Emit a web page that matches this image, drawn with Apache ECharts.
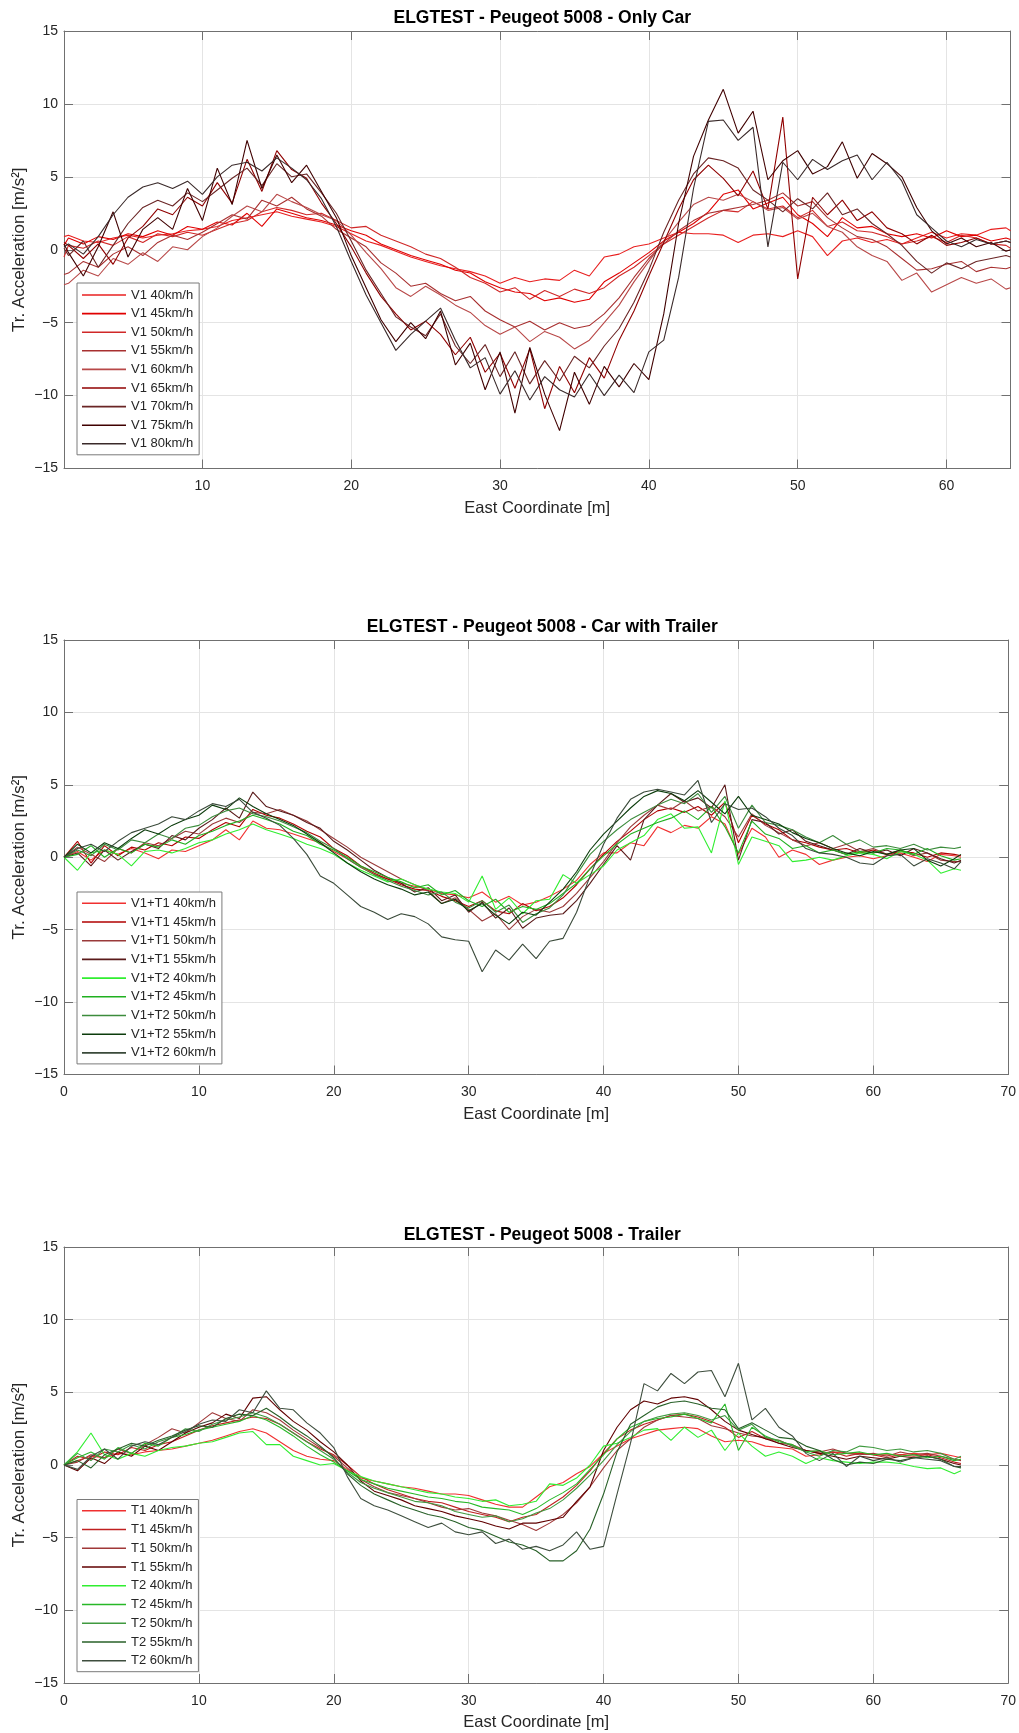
<!DOCTYPE html>
<html><head><meta charset="utf-8">
<script src="https://cdn.jsdelivr.net/npm/echarts@6/dist/echarts.min.js"></script>
<style>html,body{margin:0;padding:0;background:#fff}#c{width:1019px;height:1733px}</style>
</head><body><div id="c"></div><script>
// ---------- Panel 1: Only Car ----------
const xs1 = [0.7,1,2,3,4,5,6,7,8,9,10,11,12,13,14,15,16,17,18,19,20,21,22,23,24,25,26,27,28,29,30,31,32,33,34,35,36,37,38,39,40,41,42,43,44,45,46,47,48,49,50,51,52,53,54,55,56,57,58,59,60,61,62,63,64,64.3];
const names1 = ['V1 40km/h','V1 45km/h','V1 50km/h','V1 55km/h','V1 60km/h','V1 65km/h','V1 70km/h','V1 75km/h','V1 80km/h'];
const v1_40 = [0.9, 1.0,0.6,0.5,0.8,1.0,0.8,1.0,1.1,1.3,1.4, 1.6,2.0,2.2,2.4,2.6,2.3,2.1,1.9,1.6,1.1, 0.6,0.3,-0.1,-0.5,-0.8,-1.1,-1.3,-1.5,-1.8,-2.3, -1.9,-2.2,-2.0,-2.1,-1.4,-1.8,-0.5,-0.3,0.2,0.4, 0.8,1.2,1.1,1.1,1.0,0.5,1.0,1.1,0.9,1.3, 0.9,-0.4,0.6,0.8,0.5,0.7,0.4,0.8,1.2,0.8, 1.1,1.0,1.4,1.5, 1.3];
const v1_45 = [0.3, 0.8,0.4,0.9,0.7,1.1,0.9,1.3,1.0,1.6,1.4, 1.9,1.7,2.5,1.6,2.8,2.5,2.2,2.0,1.7,1.3, 1.0,0.4,0.0,-0.4,-0.7,-1.0,-1.4,-1.6,-2.2,-2.6, -2.9,-3.0,-3.5,-3.3,-3.6,-3.4,-2.2,-1.6,-0.9,-0.2, 0.6,1.2,1.8,2.6,3.8,4.1,2.8,3.2,3.6,2.4, 1.8,0.9,2.2,1.5,1.6,1.1,0.9,1.1,0.8,1.3, 0.9,1.0,0.6,0.8, 0.7];
const v1_50 = [-0.5, 0.3,0.1,0.6,0.3,0.9,0.5,1.1,0.9,1.2,1.0, 1.4,1.8,2.0,2.6,2.9,2.7,2.4,2.5,2.0,1.5, 1.6,1.0,0.6,0.2,-0.3,-0.6,-1.2,-1.9,-2.3,-2.9, -2.6,-3.4,-2.8,-3.2,-2.7,-3.0,-2.6,-1.8,-1.2,-0.4, 0.4,1.0,1.6,2.2,2.7,2.6,3.3,2.8,3.0,2.2, 2.7,1.6,1.9,1.3,1.2,0.9,0.4,0.6,0.9,0.5, 1.0,0.8,0.4,0.3, 0.1];
const v1_55 = [-1.7, -1.6,-0.8,-1.2,-0.3,0.2,-0.4,0.5,1.0,0.7,1.2, 1.8,2.4,2.1,3.4,3.0,3.6,2.8,2.3,1.4,0.8, 0.2,-0.9,-1.6,-2.5,-2.3,-3.0,-3.5,-3.2,-4.2,-4.8, -5.3,-4.9,-5.5,-5.0,-5.4,-5.2,-4.4,-3.3,-1.9,-0.6, 0.4,1.3,2.0,2.5,2.7,2.9,3.1,3.4,3.9,3.0, 3.3,2.2,1.5,0.9,0.7,0.2,-0.6,-1.4,-1.3,-1.0, -0.8,-1.5,-1.2,-1.3, -1.2];
const v1_60 = [-2.4, -2.3,-1.4,-1.8,-0.6,-1.0,-0.2,-0.8,0.2,0.0,0.9, 1.5,2.3,3.0,2.6,3.8,3.3,2.9,2.4,2.0,1.0, -0.2,-1.3,-2.6,-3.2,-2.5,-3.1,-3.8,-4.3,-5.2,-5.8, -5.3,-6.3,-5.6,-6.0,-6.8,-6.2,-5.0,-3.8,-2.2,-0.8, 0.6,1.9,3.1,3.6,3.4,3.8,3.3,2.7,2.9,2.1, 2.5,1.6,1.2,0.2,-0.4,-0.8,-2.1,-1.6,-2.9,-2.4, -1.9,-2.3,-2.0,-2.7, -2.6];
const v1_65 = [0.5, 0.3,-0.6,0.4,-1.0,0.8,1.6,2.8,2.4,3.6,3.0, 4.6,3.2,6.2,4.0,6.8,5.5,4.9,3.2,1.8,0.2, -1.6,-3.2,-4.4,-5.5,-4.9,-5.8,-7.2,-6.0,-8.4,-7.1, -9.5,-6.8,-10.9,-8.0,-9.8,-7.4,-8.8,-6.2,-4.2,-1.8, 0.5,2.8,4.8,5.8,4.9,3.7,5.4,2.8,9.1,-2.0, 3.6,2.4,3.4,2.0,2.6,1.5,1.1,0.4,1.0,0.3, 0.5,0.8,0.4,0.6, 0.5];
const v1_70 = [0.1, -0.4,0.6,-1.2,0.3,1.8,2.9,3.4,3.0,3.9,3.3, 4.1,4.9,5.6,4.4,5.9,5.0,5.2,3.9,2.5,0.6, -1.4,-3.0,-4.6,-5.3,-5.9,-4.4,-6.6,-7.8,-6.5,-8.7, -7.0,-9.2,-7.6,-9.0,-7.3,-8.1,-6.6,-5.4,-3.6,-1.4, 1.2,3.4,5.2,6.3,6.1,5.6,4.1,3.4,2.6,3.5, 2.8,3.9,2.4,2.8,1.8,1.1,0.3,-0.8,-1.6,-0.9, -1.3,-0.8,-0.6,-0.4, -0.5];
const v1_75 = [0.4, -0.2,-1.8,0.2,2.6,-0.5,1.4,2.2,1.4,4.2,2.0, 5.6,3.1,7.5,4.2,6.5,4.6,5.8,4.0,2.2,-0.4, -2.6,-4.8,-6.3,-5.0,-6.1,-4.2,-7.9,-6.4,-9.6,-7.0, -11.2,-6.7,-9.9,-12.4,-8.4,-10.6,-8.0,-9.4,-7.8,-8.9, -4.4,1.8,6.4,8.9,11.0,8.0,9.5,4.8,6.1,6.8, 5.2,5.7,7.4,4.9,6.6,5.9,5.0,2.9,1.3,0.4, 0.8,0.2,0.5,-0.1, 0.0];
const v1_80 = [0.2, 0.4,-0.3,0.9,2.4,3.6,4.3,4.6,4.2,4.7,3.8, 5.0,5.8,6.0,5.4,6.3,5.6,4.8,3.5,1.6,-0.8, -3.1,-5.0,-6.9,-5.8,-4.9,-4.0,-6.2,-8.1,-7.4,-9.9, -8.3,-10.3,-8.7,-9.6,-10.1,-8.5,-10.0,-8.6,-9.8,-7.0, -6.2,-1.9,4.2,8.8,8.9,7.5,8.4,0.2,6.0,4.8, 6.2,5.5,6.1,6.5,4.8,6.0,4.7,2.4,1.5,0.6, 0.2,0.7,0.4,0.6, 0.5];
const colors1 = ['#e82020','#e00000','#d02828','#a83030','#b84848','#900000','#6a2525','#400000','#3a2a2a'];

// ---------- Panel 2: Car with Trailer ----------
const xs2 = [0,1,2,3,4,5,6,7,8,9,10,11,12,13,14,15,16,17,18,19,20,21,22,23,24,25,26,27,28,29,30,31,32,33,34,35,36,37,38,39,40,41,42,43,44,45,46,47,48,49,50,51,52,53,54,55,56,57,58,59,60,61,62,63,64,65,66,66.5];
const names2 = ['V1+T1 40km/h','V1+T1 45km/h','V1+T1 50km/h','V1+T1 55km/h','V1+T2 40km/h','V1+T2 45km/h','V1+T2 50km/h','V1+T2 55km/h','V1+T2 60km/h'];
const c_t1_40 = [0, 0.4,-0.2,0.5,0.2,0.6,0.3,-0.1,0.5,0.4,0.8, 1.2,1.9,1.2,2.5,2.0,1.9,1.6,1.3,1.0,0.4, -0.1,-0.7,-1.2,-1.5,-1.8,-2.0,-2.2,-2.5,-2.6,-2.8, -2.4,-3.1,-2.7,-3.3,-3.1,-2.7,-2.2,-1.6,-0.5,0.3, 0.3,1.0,0.8,2.1,1.7,2.2,2.0,2.8,2.3,0.2, 2.0,1.4,0.0,0.5,0.2,-0.5,-0.2,0.0,0.1,-0.1, 0.1,0.3,0.0,-0.3,0.2,0.1, 0.0];
const c_t1_45 = [0, 1.1,-0.4,0.8,0.1,0.7,0.5,1.0,0.8,1.4,1.3, 1.9,2.4,2.1,3.3,2.9,2.7,2.3,1.8,1.4,0.6, 0.1,-0.6,-1.1,-1.5,-1.9,-2.2,-2.3,-2.7,-3.0,-3.4, -3.0,-3.7,-3.9,-3.2,-3.7,-3.4,-2.8,-1.9,-0.8,0.2, 1.1,1.8,2.6,3.2,3.4,3.1,3.5,2.9,3.8,1.0, 2.9,2.3,1.9,1.2,1.0,0.7,0.5,0.6,0.3,0.5, 0.2,0.4,0.3,0.0,0.3,0.2, 0.1];
const c_t1_50 = [0, 0.7,0.2,-0.3,0.6,0.3,1.0,0.8,1.3,1.8,1.6, 2.3,2.7,2.4,3.1,3.0,3.3,2.9,2.5,1.9,1.3, 0.7,0.0,-0.5,-1.0,-1.5,-1.9,-2.3,-3.2,-2.8,-3.6, -4.4,-3.9,-5.0,-4.1,-3.6,-3.8,-3.4,-2.5,-1.4,-0.3, 1.0,2.1,2.9,3.6,3.3,3.9,3.2,3.5,2.8,1.4, 3.0,2.2,1.7,1.2,0.8,1.0,0.6,0.9,0.4,0.6, 0.2,0.5,0.1,0.3,-0.2,-0.3, -0.3];
const c_t1_55 = [0, 0.3,-0.6,0.5,-0.2,0.4,0.9,0.6,1.5,1.2,2.0, 2.6,3.4,2.7,4.5,3.5,3.2,2.9,2.4,2.0,1.1, 0.5,-0.2,-0.9,-1.4,-1.8,-2.4,-2.1,-3.0,-2.6,-3.8, -3.1,-4.2,-3.5,-4.9,-4.2,-4.0,-3.9,-3.0,-1.8,-0.5, 0.8,-0.2,2.6,3.6,4.4,3.8,4.1,3.4,5.0,-0.2, 2.6,2.4,1.6,1.9,1.1,0.8,0.5,0.2,0.6,0.3, 0.5,0.1,0.6,0.3,-0.1,-0.4, -0.2];
const c_t2_40 = [0, -0.9,0.3,0.5,0.2,-0.6,0.4,0.5,0.3,0.6,1.0, 1.2,1.6,1.9,2.3,1.9,1.6,1.3,0.9,0.6,0.2, -0.4,-0.9,-1.3,-1.7,-1.5,-1.9,-2.2,-2.4,-2.5,-3.1, -1.3,-3.6,-2.8,-3.9,-3.0,-2.9,-1.2,-1.8,-1.2,-0.6, 0.5,1.0,1.5,2.6,3.0,2.0,2.1,0.3,3.9,-0.5, 1.4,1.1,0.8,-0.3,-0.2,0.0,-0.2,0.1,0.3,0.2, -0.1,0.4,0.2,-0.2,-1.1,-0.8, -0.9];
const c_t2_45 = [0, 0.2,0.8,0.0,0.6,0.3,0.9,0.7,1.2,0.9,1.5, 1.8,2.2,2.5,2.9,2.6,2.3,1.8,1.5,0.9,0.5, 0.0,-0.6,-1.0,-1.4,-1.7,-2.1,-1.9,-2.6,-2.3,-3.0, -3.4,-2.9,-3.8,-3.4,-3.6,-3.2,-2.5,-1.8,-0.8,0.1, 0.9,1.6,2.0,2.4,2.7,3.2,2.6,3.5,2.1,0.3, 2.5,1.6,1.3,0.6,0.8,0.3,0.5,0.2,0.4,0.3, 0.6,0.5,0.2,0.6,0.1,-0.2, -0.1];
const c_t2_50 = [0, 0.5,0.1,0.9,0.5,1.2,1.0,1.6,1.3,2.0,2.2, 2.8,3.2,3.4,3.0,2.8,2.5,2.1,1.7,1.1,0.6, -0.1,-0.7,-1.2,-1.6,-2.0,-2.3,-2.6,-2.4,-3.1,-3.5, -3.0,-3.8,-3.3,-4.5,-3.9,-3.5,-2.6,-1.2,0.2,1.1, 1.9,2.6,3.1,3.6,4.0,3.7,4.4,3.1,4.2,2.0, 3.6,2.4,2.2,1.9,1.4,1.0,1.5,0.9,1.2,0.7, 0.8,0.6,0.9,0.5,0.7,0.6, 0.7];
const c_t2_55 = [0, 0.9,0.3,1.0,0.6,1.3,1.9,1.6,2.2,2.6,2.9, 3.6,3.3,4.1,3.5,3.0,2.6,2.2,1.6,1.0,0.3, -0.4,-1.0,-1.5,-1.9,-2.2,-2.6,-2.4,-3.2,-2.9,-3.7, -3.2,-4.0,-4.6,-3.8,-4.0,-3.1,-2.2,-1.0,0.5,1.6, 2.5,3.4,4.2,4.6,4.4,3.9,4.6,3.8,3.0,4.2, 2.9,2.6,2.3,1.7,1.3,1.0,0.6,0.3,0.1,0.4, 0.2,0.5,0.6,-0.2,-0.6,-0.1, 0.2];
const c_t2_60 = [0, 0.6,0.9,0.4,1.1,1.7,2.0,2.3,2.8,2.6,3.2, 3.7,3.5,4.0,3.1,2.7,2.2,1.3,0.2,-1.3,-1.8, -2.6,-3.4,-3.8,-4.3,-3.9,-4.1,-4.6,-5.5,-5.7,-5.8, -7.9,-6.4,-7.1,-6.0,-7.0,-5.8,-5.6,-3.8,-1.3,0.9, 2.7,4.0,4.5,4.7,4.5,4.3,5.3,2.4,3.7,3.3, 3.4,2.8,2.0,1.5,0.6,0.3,0.2,0.0,-0.4,-0.5, 0.1,0.2,-0.6,-0.1,-0.4,-0.8, -0.3];
const colors2 = ['#f03030','#b00000','#9a3a3a','#5a1a1a','#30ee30','#20b020','#3c8c3c','#0c3c0c','#3a4a3a'];

// ---------- Panel 3: Trailer ----------
const xs3 = [0,1,2,3,4,5,6,7,8,9,10,11,12,13,14,15,16,17,18,19,20,21,22,23,24,25,26,27,28,29,30,31,32,33,34,35,36,37,38,39,40,41,42,43,44,45,46,47,48,49,50,51,52,53,54,55,56,57,58,59,60,61,62,63,64,65,66,66.5];
const names3 = ['T1 40km/h','T1 45km/h','T1 50km/h','T1 55km/h','T2 40km/h','T2 45km/h','T2 50km/h','T2 55km/h','T2 60km/h'];
const t1_40 = [0, 0.3,0.6,0.5,0.8,0.7,0.9,1.0,1.1,1.3,1.5, 1.7,2.0,2.3,2.5,2.2,1.6,1.0,0.6,0.4,0.3, -0.3,-0.9,-1.1,-1.3,-1.5,-1.6,-1.8,-2.0,-2.0,-2.1, -2.4,-2.7,-2.9,-2.9,-2.2,-1.5,-1.2,-0.6,-0.1,0.8, 1.3,1.8,2.1,2.4,2.5,2.6,2.5,2.0,1.6,1.7, 1.6,1.3,1.2,1.1,0.6,0.7,0.9,0.8,0.8,0.7, 0.7,0.7,0.8,0.7,0.8,0.6, 0.5];
const t1_45 = [0, 0.6,0.4,0.9,0.7,1.2,1.0,1.4,1.6,2.0,2.4, 2.7,2.9,3.1,3.3,3.2,2.8,2.2,1.6,1.1,0.7, 0.0,-0.8,-1.3,-1.7,-2.0,-2.3,-2.5,-2.6,-2.9,-3.2, -3.4,-3.6,-3.9,-3.6,-3.4,-2.8,-2.2,-1.4,-0.4,0.8, 1.8,2.4,2.8,3.1,3.4,3.5,3.3,3.0,2.6,1.9, 2.3,1.8,1.7,1.3,1.0,0.8,0.9,0.6,0.8,0.7, 0.5,0.7,0.6,0.7,0.5,0.2, 0.1];
const t1_50 = [0, 0.2,0.7,0.5,1.1,0.8,1.4,1.9,2.5,2.2,2.9, 3.6,3.2,3.0,3.8,3.6,3.1,2.4,1.8,1.2,0.6, -0.2,-1.0,-1.5,-1.9,-2.1,-2.3,-2.6,-2.9,-3.1,-3.0, -3.3,-3.5,-3.8,-4.1,-4.5,-4.0,-3.4,-2.6,-1.5,-0.2, 1.0,1.8,2.6,3.1,3.4,3.3,3.2,2.7,2.5,2.2, 2.0,1.9,1.5,1.4,1.0,0.9,1.1,0.8,0.7,0.8, 0.6,0.9,0.7,0.8,0.6,0.4, 0.3];
const t1_55 = [0, -0.4,0.5,0.1,0.9,0.6,1.3,1.0,1.6,2.2,2.6, 2.9,3.5,3.2,4.6,4.7,3.8,3.0,2.4,1.6,0.9, 0.0,-1.1,-1.8,-2.1,-2.4,-2.8,-3.0,-3.2,-3.5,-3.7, -3.9,-4.2,-4.4,-4.0,-4.0,-3.8,-3.6,-2.5,-1.5,1.0, 2.6,3.8,4.4,4.2,4.6,4.7,4.5,3.8,3.0,2.4, 2.1,1.8,1.5,1.2,1.0,0.8,0.6,0.4,0.6,0.5, 0.4,0.6,0.5,0.6,0.4,0.1, 0.0];
const t2_40 = [0, 0.9,2.2,0.7,0.4,0.8,0.6,1.0,1.2,1.3,1.5, 1.6,1.9,2.2,2.3,1.4,1.4,0.6,0.3,0.0,0.1, -0.4,-0.8,-1.1,-1.3,-1.5,-1.7,-1.9,-2.0,-2.2,-2.3, -2.5,-2.4,-2.8,-2.7,-2.5,-1.3,-1.4,-0.9,0.0,1.3, 1.5,1.9,2.4,2.5,1.7,2.6,1.9,2.4,1.0,2.2, 1.3,0.6,0.9,0.6,0.1,0.5,0.3,0.2,0.1,0.2, 0.2,0.1,-0.1,-0.25,-0.2,-0.6, -0.4];
const t2_45 = [0, 0.5,0.9,0.4,1.2,0.8,1.5,1.3,1.9,2.1,2.4, 2.6,2.8,3.0,3.4,3.1,2.6,2.0,1.3,0.7,0.2, -0.4,-1.0,-1.3,-1.6,-1.8,-2.0,-2.2,-2.3,-2.5,-2.6, -2.9,-3.0,-3.1,-3.4,-3.0,-2.4,-1.9,-1.3,-0.3,0.7, 1.8,2.6,3.0,3.2,3.3,3.5,3.2,2.9,4.2,1.0, 2.6,2.0,1.6,1.4,0.9,1.0,0.7,0.8,0.9,0.7, 0.8,0.6,0.7,0.5,0.6,0.3, 0.4];
const t2_50 = [0, 0.8,0.3,1.1,0.9,1.4,1.1,1.6,1.9,2.5,2.3, 2.8,3.1,3.3,3.6,3.3,2.8,2.2,1.6,1.0,0.4, -0.5,-1.2,-1.6,-1.9,-2.2,-2.5,-2.6,-2.8,-3.2,-3.4, -3.6,-3.5,-3.9,-3.7,-3.3,-3.0,-2.4,-1.6,-0.7,0.3, 1.4,2.3,3.0,3.3,3.5,3.6,3.4,3.1,3.4,2.4, 2.8,1.9,1.7,1.3,0.9,0.6,1.0,0.9,1.3,1.2, 1.0,1.1,0.9,1.0,0.8,0.4, 0.6];
const t2_55 = [0, 0.3,-0.2,0.7,1.1,1.5,1.3,1.7,2.0,2.4,2.7, 2.6,3.2,3.5,3.4,3.9,3.3,2.6,2.0,1.3,0.5, -0.6,-1.4,-2.0,-2.4,-2.8,-3.1,-3.4,-3.6,-3.9,-4.3, -4.5,-4.9,-5.3,-5.5,-5.9,-6.6,-6.6,-5.9,-4.4,-2.0, 0.9,2.8,3.4,4.0,4.3,4.4,4.2,3.9,3.8,2.5, 2.9,2.4,1.9,1.8,1.3,1.0,0.4,0.0,0.2,0.1, 0.4,0.3,0.5,0.6,0.4,-0.1, -0.2];
const t2_60 = [0, -0.3,0.6,1.1,0.4,1.3,1.6,1.4,1.9,2.3,2.8, 3.1,3.0,3.8,3.6,5.1,3.9,3.8,2.9,2.2,1.2, -0.8,-2.3,-2.8,-3.1,-3.5,-3.9,-4.3,-4.0,-4.6,-4.8, -4.6,-5.4,-5.1,-5.8,-5.6,-5.9,-5.5,-4.6,-5.8,-5.6, -2.0,1.5,5.6,5.1,6.3,5.6,6.4,6.5,4.7,7.0, 3.1,3.9,2.6,2.0,0.8,0.3,0.8,-0.1,0.6,0.3, 0.5,0.2,0.5,0.4,0.3,-0.1, -0.1];
const colors3 = ['#f03030','#c02020','#a03838','#600000','#30ee30','#28b828','#409a40','#286028','#3e4e3e'];

const yTicks = [-15,-10,-5,0,5,10,15];
const FONT = 'Liberation Sans, Arial, Helvetica, sans-serif';
const AX = '#707070', TXT = '#262626', GRIDC = '#e4e4e4';
const minus = v => String(v).replace('-', '\u2212');

const panels = [
  {title:'ELGTEST - Peugeot 5008 - Only Car', top:31, height:437.5, xmin:0.7, xmax:64.3, xs:xs1, names:names1,
   vals:[v1_40,v1_45,v1_50,v1_55,v1_60,v1_65,v1_70,v1_75,v1_80], colors:colors1, lgTop:283, lgPad:[5,6,4,5], lgGap:4.6, tOff:27},
  {title:'ELGTEST - Peugeot 5008 - Car with Trailer', top:640, height:434.5, xmin:0, xmax:70, xs:xs2, names:names2,
   vals:[c_t1_40,c_t1_45,c_t1_50,c_t1_55,c_t2_40,c_t2_45,c_t2_50,c_t2_55,c_t2_60], colors:colors2, lgTop:892, lgPad:[4.3,6,4,5], lgGap:4.7, tOff:26.5},
  {title:'ELGTEST - Peugeot 5008 - Trailer', top:1247, height:436, xmin:0, xmax:70, xs:xs3, names:names3,
   vals:[t1_40,t1_45,t1_50,t1_55,t2_40,t2_45,t2_50,t2_55,t2_60], colors:colors3, lgTop:1499.5, lgPad:[4.2,6,4,5], lgGap:4.75, tOff:26}
];

const LEFT = 64, WIDTH = 946.5;
const grid = [], xAxis = [], yAxis = [], series = [], legend = [], title = [];
panels.forEach((p, i) => {
  grid.push({left:LEFT, top:p.top, width:WIDTH, height:p.height, containLabel:false});
  title.push({text:p.title, left:LEFT + WIDTH/2, top:p.top - p.tOff, textAlign:'center',
    textStyle:{fontFamily:FONT, fontSize:17.5, fontWeight:'bold', color:'#000'}});
  const xTickCommon = {gridIndex:i, type:'value', min:p.xmin, max:p.xmax, minInterval:10, maxInterval:10,
    axisLine:{show:true, onZero:false, lineStyle:{color:AX, width:1}},
    axisTick:{show:true, inside:true, length:9, lineStyle:{color:AX}}};
  xAxis.push(Object.assign({}, xTickCommon, {position:'bottom',
    axisLabel:{show:true, color:TXT, fontSize:14, fontFamily:FONT, margin:11, showMinLabel: p.xmin === 0, showMaxLabel: p.xmax === 70,
      formatter: v => (Math.abs(v % 10) < 1e-9 ? String(v) : '')},
    splitLine:{show:true, lineStyle:{color:GRIDC, width:1}},
    name:'East Coordinate [m]', nameLocation:'middle', nameGap:31,
    nameTextStyle:{fontFamily:FONT, fontSize:16.5, color:TXT}}));
  xAxis.push(Object.assign({}, xTickCommon, {position:'top', axisLabel:{show:false}, splitLine:{show:false}}));
  const yCommon = {gridIndex:i, type:'value', min:yTicks[0], max:yTicks[yTicks.length-1], interval:5,
    axisLine:{show:true, onZero:false, lineStyle:{color:AX, width:1}},
    axisTick:{show:true, inside:true, length:9, lineStyle:{color:AX}}};
  yAxis.push(Object.assign({}, yCommon, {position:'left',
    axisLabel:{show:true, color:TXT, fontSize:14, fontFamily:FONT, margin:6, formatter:minus},
    splitLine:{show:true, lineStyle:{color:GRIDC, width:1}},
    name:'Tr. Acceleration [m/s²]', nameLocation:'middle', nameGap:36, nameRotate:90, nameMoveOverlap:false,
    nameTextStyle:{fontFamily:FONT, fontSize:17, color:TXT}}));
  yAxis.push(Object.assign({}, yCommon, {position:'right', axisLabel:{show:false}, splitLine:{show:false}}));
  p.names.forEach((n, k) => {
    series.push({name:n, type:'line', xAxisIndex:2*i, yAxisIndex:2*i,
      data:p.xs.map((x, j) => [x, p.vals[k][j]]),
      symbol:'none', showSymbol:false, silent:true, animation:false,
      color:p.colors[k], lineStyle:{width:1.1, color:p.colors[k]}, itemStyle:{color:p.colors[k]}});
  });
  legend.push({data:p.names.map(n => ({name:n, icon:'rect'})), orient:'vertical', left:77, top:p.lgTop, backgroundColor:'#fff',
    borderColor:'#7a7a7a', borderWidth:1, borderRadius:0, padding:p.lgPad,
    itemWidth:44, itemHeight:1.6, itemGap:p.lgGap, selectedMode:false,
    textStyle:{fontFamily:FONT, fontSize:13, color:TXT, lineHeight:14}});
});

const chart = echarts.init(document.getElementById('c'), null, {renderer:'canvas', devicePixelRatio:1});
chart.setOption({backgroundColor:'#fff', animation:false, textStyle:{fontFamily:FONT},
  title, grid, xAxis, yAxis, series, legend});
</script></body></html>
